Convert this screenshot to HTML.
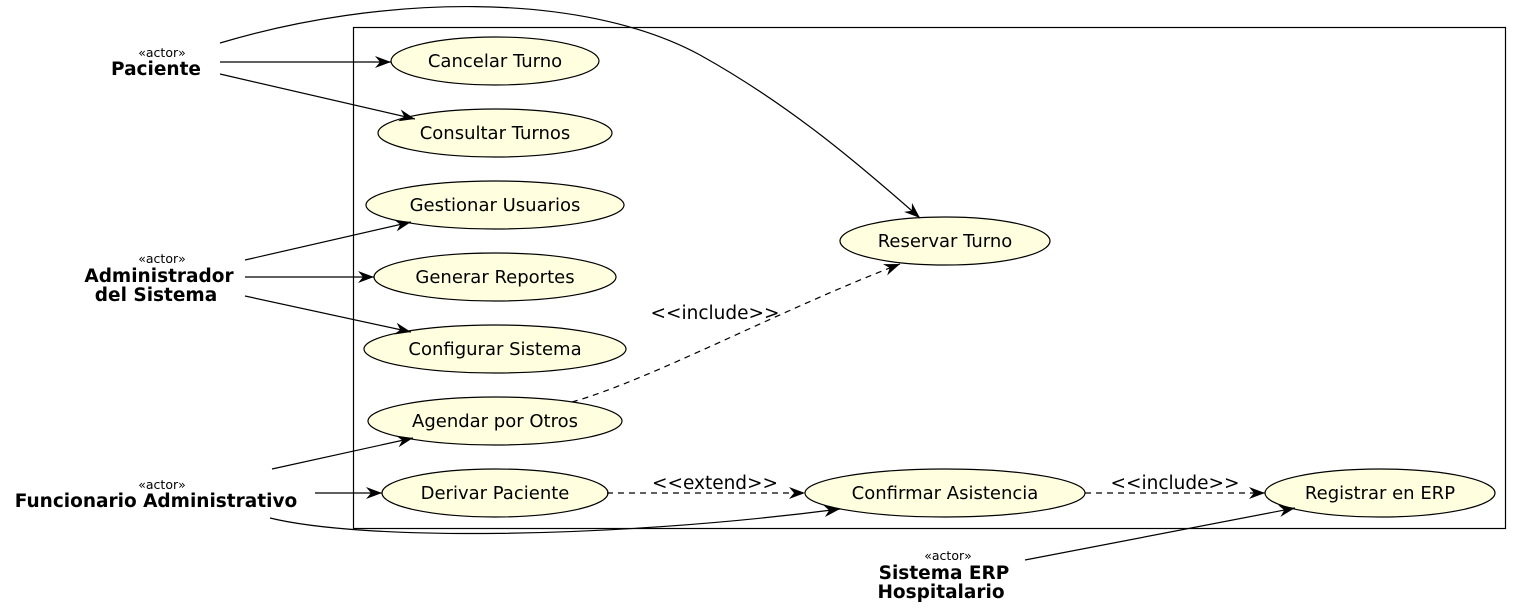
<!DOCTYPE html>
<html><head><meta charset="utf-8"><style>
html,body{margin:0;padding:0;background:#fff;}
svg{display:block;font-family:"DejaVu Sans","Liberation Sans",sans-serif;}
</style></head><body>
<svg width="1522" height="614" viewBox="0 0 1522 614" xmlns="http://www.w3.org/2000/svg">
<defs>
<marker id="a" markerUnits="userSpaceOnUse" markerWidth="18" markerHeight="14" refX="16" refY="7" orient="auto">
<path d="M0,1 L16,7 L0,13 L5,7 z" fill="#000"/>
</marker>
</defs>
<rect x="353.5" y="27.5" width="1152" height="501" fill="none" stroke="#000" stroke-width="1.2"/>
<g fill="#ffffe0" stroke="#000" stroke-width="1.2">
<ellipse cx="495" cy="61" rx="104" ry="24"/>
<ellipse cx="495" cy="133" rx="117" ry="24"/>
<ellipse cx="495" cy="205" rx="129" ry="24"/>
<ellipse cx="495" cy="277" rx="121" ry="24"/>
<ellipse cx="495" cy="349" rx="131" ry="24"/>
<ellipse cx="495" cy="421" rx="127" ry="24"/>
<ellipse cx="495" cy="493" rx="113" ry="24"/>
<ellipse cx="945" cy="241" rx="105" ry="24"/>
<ellipse cx="945" cy="493" rx="140" ry="24"/>
<ellipse cx="1380" cy="493" rx="115" ry="24"/>
</g>
<g font-size="18" text-anchor="middle" fill="#000">
<text x="495" y="67">Cancelar Turno</text>
<text x="495" y="139">Consultar Turnos</text>
<text x="495" y="211">Gestionar Usuarios</text>
<text x="495" y="283">Generar Reportes</text>
<text x="495" y="355">Configurar Sistema</text>
<text x="495" y="427">Agendar por Otros</text>
<text x="495" y="499">Derivar Paciente</text>
<text x="945" y="247">Reservar Turno</text>
<text x="945" y="499">Confirmar Asistencia</text>
<text x="1380" y="499">Registrar en ERP</text>
<text x="715" y="319" font-size="18.5">&lt;&lt;include&gt;&gt;</text>
<text x="715" y="489" font-size="18.5">&lt;&lt;extend&gt;&gt;</text>
<text x="1175" y="489" font-size="18.5">&lt;&lt;include&gt;&gt;</text>
</g>
<g fill="none" stroke="#000" stroke-width="1.2" marker-end="url(#a)">
<path d="M220,62 L391,62"/>
<path d="M220,74 L415,119"/>
<path d="M220,43 C380,-5 580,-10 700,55 C790,105 860,165 920,218"/>
<path d="M245,260 L411,222"/>
<path d="M245,277 L374,277"/>
<path d="M245,296 L411,332"/>
<path d="M272,469 L413,438"/>
<path d="M315,493 L382,493"/>
<path d="M270,518 C360,540 600,540 840,509"/>
<path d="M1025,560 L1295,508"/>
<path d="M572,402 C650,380 780,310 900,264" stroke-dasharray="6,5"/>
<path d="M607,493 L805,493" stroke-dasharray="6,5"/>
<path d="M1085,493 L1265,493" stroke-dasharray="6,5"/>
</g>
<g text-anchor="middle" fill="#000">
<text x="162" y="57" font-size="12.5">«actor»</text>
<text x="156" y="75" font-size="18.5" font-weight="bold">Paciente</text>
<text x="162" y="263" font-size="12.5">«actor»</text>
<text x="159" y="282" font-size="18.5" font-weight="bold">Administrador</text>
<text x="156" y="301" font-size="18.5" font-weight="bold">del Sistema</text>
<text x="162" y="489" font-size="12.5">«actor»</text>
<text x="156" y="507" font-size="18.5" font-weight="bold">Funcionario Administrativo</text>
<text x="948" y="560" font-size="12.5">«actor»</text>
<text x="944" y="579" font-size="18.5" font-weight="bold">Sistema ERP</text>
<text x="941" y="598" font-size="18.5" font-weight="bold">Hospitalario</text>
</g>
</svg>
</body></html>
